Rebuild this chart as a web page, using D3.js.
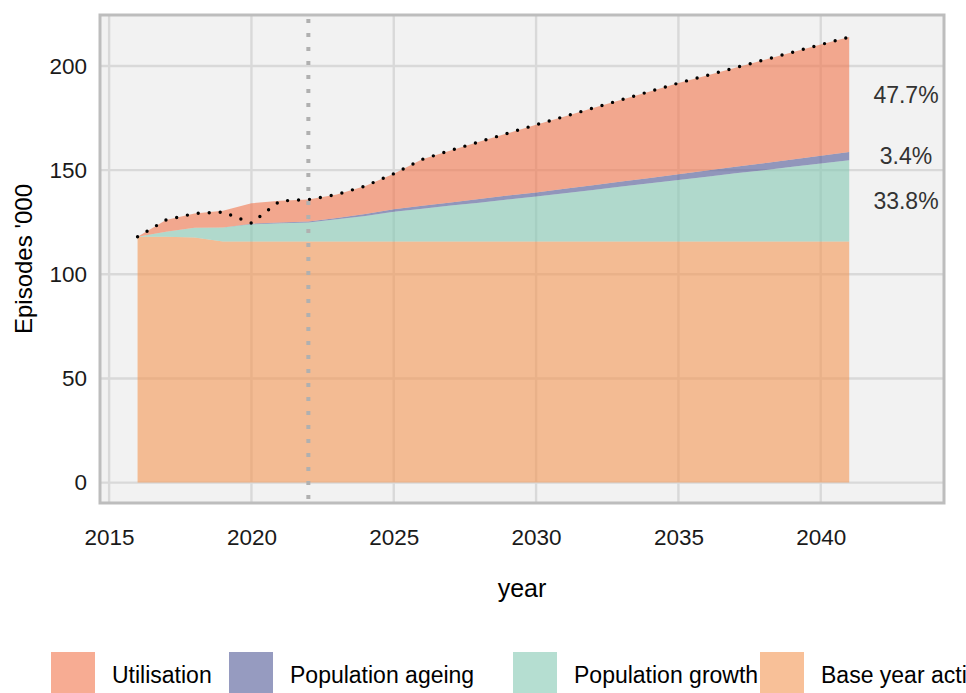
<!DOCTYPE html>
<html>
<head>
<meta charset="utf-8">
<script src="https://cdn.jsdelivr.net/npm/d3@7"></script>
<style>
  body { margin: 0; background: #fff; }
  svg { display: block; font-family: 'Liberation Sans', Arial, Helvetica, sans-serif; }
</style>
</head>
<body>
<div id="chart"></div>
<script>
// years on the x axis
const years = [2016, 2017, 2018, 2019, 2020, 2021, 2022, 2023, 2024, 2025, 2026, 2027, 2028,
  2029, 2030, 2031, 2032, 2033, 2034, 2035, 2036, 2037, 2038, 2039, 2040, 2041]

// stacked components, episodes '000
const baseYear = [118, 118, 117.7, 115.7, 115.7, 115.7, 115.7, 115.7, 115.7, 115.7, 115.7, 115.7, 115.7,
  115.7, 115.7, 115.7, 115.7, 115.7, 115.7, 115.7, 115.7, 115.7, 115.7, 115.7, 115.7, 115.7]
const popGrowth = [0, 2.4, 4.7, 6.8, 8.3, 8.8, 9.2, 10.7, 12.3, 14.3, 15.8, 17.3, 18.7,
  20.2, 21.6, 23.2, 24.8, 26.4, 28.0, 29.6, 31.2, 32.8, 34.3, 35.9, 37.5, 39.1]
const popAgeing = [0, 0, 0, 0, 0.3, 0.4, 0.5, 0.6, 1.0, 1.2, 1.4, 1.5, 1.7,
  1.9, 2.0, 2.2, 2.3, 2.5, 2.6, 2.8, 3.0, 3.1, 3.3, 3.5, 3.7, 3.9]
const utilisation = [0, 5.7, 6.8, 8.0, 9.8, 10.4, 10.5, 11.3, 13.4, 17.1, 22.3, 25.0, 27.5,
  29.9, 32.5, 34.7, 37.0, 39.2, 41.5, 43.7, 45.6, 47.6, 49.6, 51.5, 53.4, 55.2]

// observed / projected total (dotted line)
const totalLine = [118.0, 126.1, 129.2, 129.9, 124.6, 135.2, 135.9, 138.3, 142.4, 148.3, 155.2, 159.5, 163.6,
  167.7, 171.8, 175.8, 179.8, 183.8, 187.8, 191.8, 195.5, 199.2, 202.9, 206.6, 210.3, 213.9]

const xTicks = [2015, 2020, 2025, 2030, 2035, 2040]
const yTicks = [0, 50, 100, 150, 200]
const markerYear = 2022

const keys = ['base', 'growth', 'ageing', 'utilisation']
const labels = {
  utilisation: 'Utilisation',
  ageing: 'Population ageing',
  growth: 'Population growth',
  base: 'Base year activity',
}
const colors = {
  utilisation: '#f2754b',
  ageing: '#505996',
  growth: '#84c8b2',
  base: '#f49654',
}
const alpha = 0.6

const width = 966
const height = 693
const panel = { left: 100, right: 944, top: 15, bottom: 503 }

const rows = years.map((y, i) => ({
  year: y,
  base: baseYear[i],
  growth: popGrowth[i],
  ageing: popAgeing[i],
  utilisation: utilisation[i],
}))

const x = d3.scaleLinear().domain([2014.68, 2044.33]).range([panel.left, panel.right])
const y = d3.scaleLinear().domain([-9.8, 224.5]).range([panel.bottom, panel.top])

const svg = d3.select('#chart').append('svg')
  .attr('width', width)
  .attr('height', height)

// panel background
svg.append('rect')
  .attr('x', panel.left).attr('y', panel.top)
  .attr('width', panel.right - panel.left).attr('height', panel.bottom - panel.top)
  .attr('fill', '#f2f2f2')

const grid = svg.append('g').attr('stroke', '#d9d9d9').attr('stroke-width', 2.4)
grid.selectAll('.gx').data(xTicks).enter().append('line')
  .attr('x1', d => x(d)).attr('x2', d => x(d))
  .attr('y1', panel.top).attr('y2', panel.bottom)
grid.selectAll('.gy').data(yTicks).enter().append('line')
  .attr('x1', panel.left).attr('x2', panel.right)
  .attr('y1', d => y(d)).attr('y2', d => y(d))

const series = d3.stack().keys(keys)(rows)
const area = d3.area()
  .x(d => x(d.data.year))
  .y0(d => y(d[0]))
  .y1(d => y(d[1]))

svg.append('g').selectAll('path').data(series).enter().append('path')
  .attr('d', area)
  .attr('fill', d => colors[d.key])
  .attr('fill-opacity', alpha)

// vertical marker for the base year
svg.append('line')
  .attr('x1', x(markerYear)).attr('x2', x(markerYear))
  .attr('y1', panel.top + 4).attr('y2', panel.bottom)
  .attr('stroke', '#b0b0b0')
  .attr('stroke-width', 4)
  .attr('stroke-dasharray', '4,10')

// dotted total line
const line = d3.line()
  .x((d, i) => x(years[i]))
  .y(d => y(d))
svg.append('path')
  .datum(totalLine)
  .attr('d', line)
  .attr('fill', 'none')
  .attr('stroke', '#000')
  .attr('stroke-width', 3.4)
  .attr('stroke-linecap', 'round')
  .attr('stroke-dasharray', '0,11')

// percentage labels at the last year
const last = series.map(s => s[s.length - 1])
const baseLast = baseYear[baseYear.length - 1]
const pctLabels = ['growth', 'ageing', 'utilisation'].map(k => {
  const s = last[keys.indexOf(k)]
  return { key: k, mid: (s[0] + s[1]) / 2, pct: (s[1] - s[0]) / baseLast * 100 }
})
svg.append('g').selectAll('text').data(pctLabels).enter().append('text')
  .attr('x', 906)
  .attr('y', d => y(d.mid))
  .attr('dy', '0.35em')
  .attr('text-anchor', 'middle')
  .attr('font-size', 23)
  .attr('fill', '#333')
  .text(d => d.pct.toFixed(1) + '%')

// panel border
svg.append('rect')
  .attr('x', panel.left).attr('y', panel.top)
  .attr('width', panel.right - panel.left).attr('height', panel.bottom - panel.top)
  .attr('fill', 'none')
  .attr('stroke', '#bdbdbd')
  .attr('stroke-width', 3)

// axes
const xAxis = d3.axisBottom(x).tickValues(xTicks).tickFormat(d3.format('d')).tickSize(0).tickPadding(0)
const gx = svg.append('g').attr('transform', `translate(0,${panel.bottom + 26})`).call(xAxis)
gx.select('.domain').remove()
gx.selectAll('text').attr('font-size', 22.5).attr('fill', '#1a1a1a').attr('font-family', null)

const yAxis = d3.axisLeft(y).tickValues(yTicks).tickSize(0).tickPadding(0)
const gy = svg.append('g').attr('transform', `translate(${panel.left - 13},0)`).call(yAxis)
gy.select('.domain').remove()
gy.selectAll('text').attr('font-size', 22.5).attr('fill', '#1a1a1a').attr('font-family', null)

svg.append('text')
  .attr('x', (panel.left + panel.right) / 2)
  .attr('y', 597)
  .attr('text-anchor', 'middle')
  .attr('font-size', 25)
  .attr('fill', '#000')
  .text('year')

svg.append('text')
  .attr('transform', `translate(32,${(panel.top + panel.bottom) / 2}) rotate(-90)`)
  .attr('text-anchor', 'middle')
  .attr('font-size', 24)
  .attr('fill', '#000')
  .text("Episodes '000")

// legend
const legendItems = ['utilisation', 'ageing', 'growth', 'base']
const legendX = [51, 229, 513, 760]
const legend = svg.append('g')
const li = legend.selectAll('g').data(legendItems).enter().append('g')
  .attr('transform', (d, i) => `translate(${legendX[i]},652)`)
li.append('rect')
  .attr('width', 44).attr('height', 44)
  .attr('fill', d => colors[d])
  .attr('fill-opacity', alpha)
li.append('text')
  .attr('x', 61)
  .attr('y', 31)
  .attr('font-size', 23)
  .attr('fill', '#000')
  .text(d => labels[d])
</script>
</body>
</html>
